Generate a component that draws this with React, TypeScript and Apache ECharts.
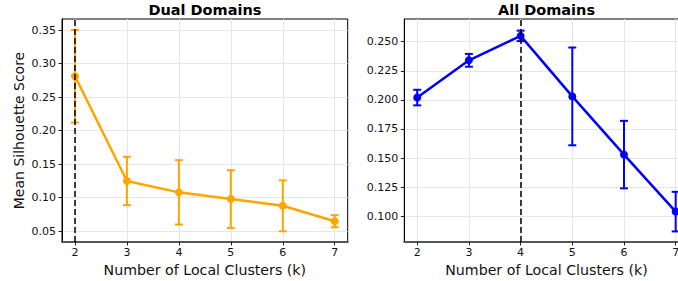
import React, { useEffect, useRef } from "react";
import * as echarts from "echarts";

const ks = [2, 3, 4, 5, 6, 7];
const dualMean = [0.281, 0.125, 0.108, 0.098, 0.088, 0.065];
const dualStd = [0.069, 0.036, 0.048, 0.043, 0.038, 0.009];
const allMean = [0.202, 0.234, 0.255, 0.203, 0.153, 0.104];
const allStd = [0.0067, 0.0055, 0.0045, 0.042, 0.029, 0.017];
const dualYTicks = [0.05, 0.1, 0.15, 0.2, 0.25, 0.3, 0.35];
const allYTicks = [0.1, 0.125, 0.15, 0.175, 0.2, 0.225, 0.25];
const dualBestK = 2;
const allBestK = 4;
const titles = ["Dual Domains", "All Domains"];
const xName = "Number of Local Clusters (k)";
const yName = "Mean Silhouette Score";

const FONT = "DejaVu Sans";

function errorBarSeries(idx: number, mean: number[], std: number[], color: string) {
  return {
    type: "custom",
    xAxisIndex: idx,
    yAxisIndex: idx,
    z: 3,
    silent: true,
    clip: false,
    data: ks.map((k, i) => [k, mean[i] - std[i], mean[i] + std[i]]),
    renderItem: (params: any, api: any) => {
      const x = api.value(0);
      const lo = api.coord([x, api.value(1)]);
      const hi = api.coord([x, api.value(2)]);
      const cap = 4;
      const style = { stroke: color, lineWidth: 2 };
      return {
        type: "group",
        children: [
          { type: "line", shape: { x1: lo[0], y1: lo[1], x2: hi[0], y2: hi[1] }, style },
          { type: "line", shape: { x1: lo[0] - cap, y1: lo[1], x2: lo[0] + cap, y2: lo[1] }, style },
          { type: "line", shape: { x1: hi[0] - cap, y1: hi[1], x2: hi[0] + cap, y2: hi[1] }, style },
        ],
      };
    },
  };
}

export default function App() {
  const ref = useRef<HTMLDivElement>(null);
  useEffect(() => {
    const chart = echarts.init(ref.current!, null, { renderer: "svg" });
    const grids = [
      { left: 62, top: 19, width: 285.7, height: 223 },
      { left: 404.3, top: 19, width: 284.3, height: 223 },
    ];
    const yRanges = [
      { min: 0.034, max: 0.3664, ticks: dualYTicks, dec: 2 },
      { min: 0.0779, max: 0.2695, ticks: allYTicks, dec: 3 },
    ];
    const option: any = {
      animation: false,
      backgroundColor: "#fff",
      textStyle: { fontFamily: FONT },
      grid: grids.map((g) => ({
        ...g,
        outerBoundsMode: "none",
        containLabel: false,
        show: true,
        borderColor: "#000",
        borderWidth: 1,
        backgroundColor: "transparent",
      })),
      xAxis: [0, 1].map((i) => ({
        type: "value",
        gridIndex: i,
        min: 1.75,
        max: 7.25,
        name: xName,
        nameLocation: "middle",
        nameGap: 18,
        nameTextStyle: { fontSize: 14.2, color: "#111", fontFamily: FONT },
        axisLine: { show: true, onZero: false, lineStyle: { color: "#555", width: 2 } },
        axisTick: { show: true, length: 3.5, customValues: ks, lineStyle: { color: "#222" } },
        axisLabel: { customValues: ks, fontSize: 11, color: "#111", margin: 5, fontFamily: FONT },
        splitLine: { show: true, lineStyle: { color: "#e6e6e6", width: 1 } },
      })),
      yAxis: [0, 1].map((i) => ({
        type: "value",
        gridIndex: i,
        min: yRanges[i].min,
        max: yRanges[i].max,
        name: i === 0 ? yName : "",
        nameLocation: "middle",
        nameGap: 36,
        nameTextStyle: { fontSize: 14, color: "#111", fontFamily: FONT },
        axisLine: { show: true, lineStyle: { color: "#000", width: 1 } },
        axisTick: { show: true, length: 3.5, customValues: yRanges[i].ticks, lineStyle: { color: "#222" } },
        axisLabel: {
          customValues: yRanges[i].ticks,
          fontSize: 11,
          color: "#111",
          margin: 6,
          fontFamily: FONT,
          formatter: (v: number) => v.toFixed(yRanges[i].dec),
        },
        splitLine: { show: true, lineStyle: { color: "#e6e6e6", width: 1 } },
      })),
      graphic: [
        { type: "text", x: 204.9, y: 10, style: { text: titles[0], textAlign: "center", textVerticalAlign: "middle", font: `bold 14.5px '${FONT}'`, fill: "#000" } },
        { type: "text", x: 546.5, y: 10, style: { text: titles[1], textAlign: "center", textVerticalAlign: "middle", font: `bold 14.5px '${FONT}'`, fill: "#000" } },
      ],
      series: [
        errorBarSeries(0, dualMean, dualStd, "#FFA500"),
        {
          type: "line",
          xAxisIndex: 0,
          yAxisIndex: 0,
          z: 4,
          data: ks.map((k, i) => [k, dualMean[i]]),
          symbol: "circle",
          symbolSize: 8,
          lineStyle: { color: "#FFA500", width: 2.5 },
          itemStyle: { color: "#FFA500" },
        },
        {
          type: "line",
          xAxisIndex: 0,
          yAxisIndex: 0,
          z: 6,
          data: [],
          markLine: {
            silent: true,
            symbol: "none",
            label: { show: false },
            lineStyle: { color: "#000", type: [6, 3], width: 1.5 },
            data: [{ xAxis: dualBestK }],
          },
        },
        errorBarSeries(1, allMean, allStd, "#0000FF"),
        {
          type: "line",
          xAxisIndex: 1,
          yAxisIndex: 1,
          z: 4,
          data: ks.map((k, i) => [k, allMean[i]]),
          symbol: "circle",
          symbolSize: 8,
          lineStyle: { color: "#0000FF", width: 2.5 },
          itemStyle: { color: "#0000FF" },
        },
        {
          type: "line",
          xAxisIndex: 1,
          yAxisIndex: 1,
          z: 6,
          data: [],
          markLine: {
            silent: true,
            symbol: "none",
            label: { show: false },
            lineStyle: { color: "#000", type: [6, 3], width: 1.5 },
            data: [{ xAxis: allBestK }],
          },
        },
      ],
    };
    chart.setOption(option);
    return () => chart.dispose();
  }, []);
  return <div ref={ref} style={{ position: "fixed", left: 0, top: 0, width: 678, height: 281 }} />;
}
